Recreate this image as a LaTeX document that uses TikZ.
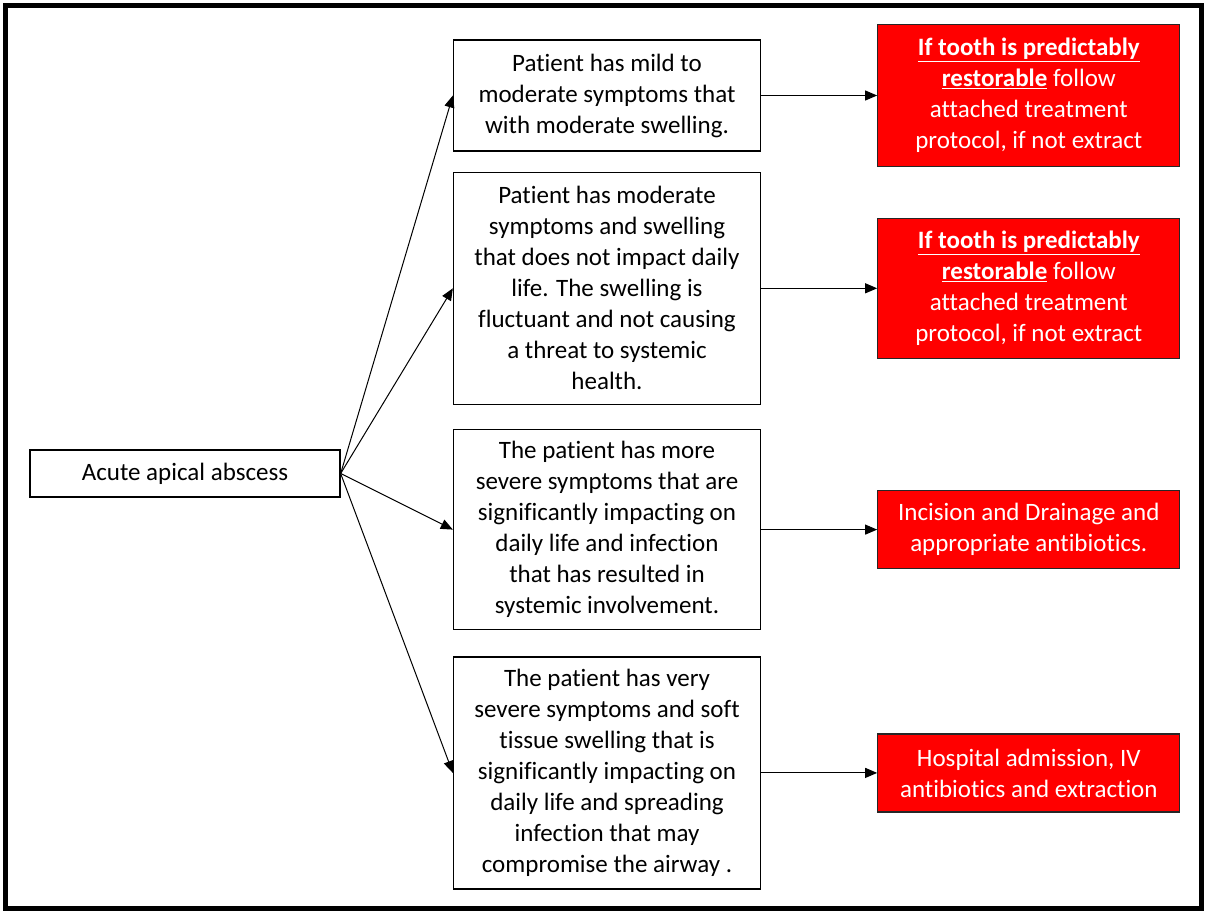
\documentclass[tikz,border=0pt]{standalone}
\usepackage{fontspec}
\setmainfont{Carlito}[Ligatures={NoCommon}]
\usepackage{tikz}
\usetikzlibrary{positioning, arrows.meta}

\begin{document}
\begin{tikzpicture}[x=1pt, y=-1pt, node distance=116pt]
        \tikzstyle{block} = [rectangle, draw, line width=1.3pt, fill=white, align=center, inner sep=0pt, minimum width=307pt, font=\fontsize{25}{31}\selectfont]
        \tikzstyle{action} = [rectangle, draw=black!85, line width=1.3pt, fill=red, text=white, align=center, inner sep=0pt, minimum width=302pt, font=\fontsize{25}{31}\selectfont]
        \tikzstyle{arrow} = [line width=1pt, -{Triangle[length=12pt, width=10pt]}]

        \useasboundingbox (0,0) rectangle (1206,911);
        \draw [line width=5pt] (5,5) rectangle (1201,908);

        \node [block, minimum width=310pt, minimum height=47pt] (abscess) at (185,473.5) {Acute apical abscess};
        \node [block, minimum height=111pt] (mild) at (607,95.5) {Patient has mild to\\moderate symptoms that\\with moderate swelling.};
        \node [block, minimum height=232pt, below=20pt of mild] (moderate) {Patient has moderate\\symptoms and swelling\\that does not impact daily\\life. The swelling is\\fluctuant and not causing\\a threat to systemic\\health.};
        \node [block, minimum height=200pt, below=24pt of moderate] (severe) {The patient has more\\severe symptoms that are\\significantly impacting on\\daily life and infection\\that has resulted in\\systemic involvement.};
        \node [block, minimum height=232pt, below=26pt of severe] (verysevere) {The patient has very\\severe symptoms and soft\\tissue swelling that is\\significantly impacting on\\daily life and spreading\\infection that may\\compromise the airway .};

        \node [action, minimum height=142pt, right=of mild] (restore1) {\underline{\textbf{If tooth is predictably}}\\\underline{\textbf{restorable}} follow\\attached treatment\\protocol, if not extract};
        \node [action, minimum height=140pt, right=of moderate] (restore2) {\underline{\textbf{If tooth is predictably}}\\\underline{\textbf{restorable}} follow\\attached treatment\\protocol, if not extract};
        \node [action, minimum height=78pt, right=of severe] (drainage) {Incision and Drainage and\\appropriate antibiotics.};
        \node [action, minimum height=78pt, right=of verysevere] (hospital) {Hospital admission, IV\\antibiotics and extraction};

        \draw [arrow] (abscess.east) -- (mild.west);
        \draw [arrow] (abscess.east) -- (moderate.west);
        \draw [arrow] (abscess.east) -- (severe.west);
        \draw [arrow] (abscess.east) -- (verysevere.west);
        \draw [arrow] (mild) -- (restore1);
        \draw [arrow] (moderate) -- (restore2);
        \draw [arrow] (severe) -- (drainage);
        \draw [arrow] (verysevere) -- (hospital);
    \end{tikzpicture}
\end{document}
